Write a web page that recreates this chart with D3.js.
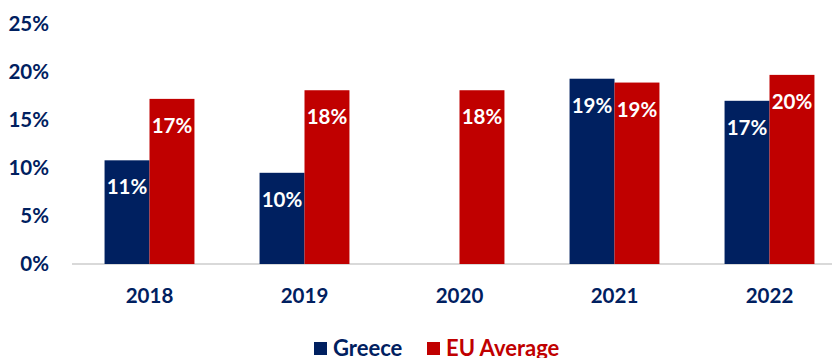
<!DOCTYPE html>
<html><head><meta charset="utf-8">
<script src="https://cdn.jsdelivr.net/npm/d3@7"></script>
<style>body{margin:0;background:#fff}svg{display:block}text{font-family:Lato,"Open Sans",sans-serif;font-weight:700}</style>
</head><body><svg id="c" width="832" height="358"></svg>
<script>
const categories = ["2018","2019","2020","2021","2022"];
const seriesNames = ["Greece","EU Average"];
const greece = [10.8, 9.5, null, 19.3, 17.0];
const euAverage = [17.2, 18.1, 18.1, 18.9, 19.7];
const greeceLabels = ["11%","10%","","19%","17%"];
const euLabels = ["17%","18%","18%","19%","20%"];
const yTicks = [0,5,10,15,20,25];
const colors = ["#002060","#C00000"];

const svg = d3.select("#c");
const y = d3.scaleLinear().domain([0,25]).range([264,24]);
const x = d3.scaleBand().domain(categories).range([72,847]).paddingInner(0.42).paddingOuter(0.21);
const xs = d3.scaleBand().domain(seriesNames).range([0,x.bandwidth()]);

// y axis labels
const yAxis = d3.axisLeft(y).tickValues(yTicks).tickFormat(d=>d+"%").tickSize(0).tickPadding(0);
const ya = svg.append("g").attr("transform","translate(49,0)").call(yAxis);
ya.select(".domain").remove();
ya.selectAll("text").attr("font-size",20.5).attr("fill","#002060").attr("font-family","Lato").attr("font-weight",700);

// baseline
svg.append("line").attr("x1",72).attr("x2",832).attr("y1",y(0)).attr("y2",y(0))
  .attr("stroke","#d9d9d9").attr("stroke-width",2);

// x axis labels
const xAxis = d3.axisBottom(x).tickSize(0).tickPadding(0);
const xa = svg.append("g").attr("transform","translate(0,296)").call(xAxis);
xa.select(".domain").remove();
xa.selectAll("text").attr("font-size",20.5).attr("fill","#002060").attr("dy","0.35em").attr("font-family","Lato").attr("font-weight",700);

const data = [];
categories.forEach((c,i)=>{
  data.push({c, s:seriesNames[0], v:greece[i], l:greeceLabels[i], col:colors[0]});
  data.push({c, s:seriesNames[1], v:euAverage[i], l:euLabels[i], col:colors[1]});
});
const valid = data.filter(d=>d.v!=null);
svg.append("g").selectAll("rect").data(valid).join("rect")
  .attr("x",d=>x(d.c)+xs(d.s)).attr("width",xs.bandwidth())
  .attr("y",d=>y(d.v)).attr("height",d=>y(0)-y(d.v)).attr("fill",d=>d.col);
svg.append("g").selectAll("text").data(valid).join("text")
  .attr("x",d=>x(d.c)+xs(d.s)+xs.bandwidth()/2).attr("y",d=>y(d.v)+27)
  .attr("dy","0.35em").attr("text-anchor","middle").attr("fill","#fff").attr("font-size",20.5)
  .text(d=>d.l);

// legend
const leg = svg.append("g");
const legX = [314, 427];
seriesNames.forEach((s,i)=>{
  leg.append("rect").attr("x",legX[i]).attr("y",342).attr("width",13).attr("height",13).attr("fill",colors[i]);
  leg.append("text").attr("x",legX[i]+19).attr("y",356).attr("font-size",22).attr("fill",colors[i]).text(s);
});
</script></body></html>
